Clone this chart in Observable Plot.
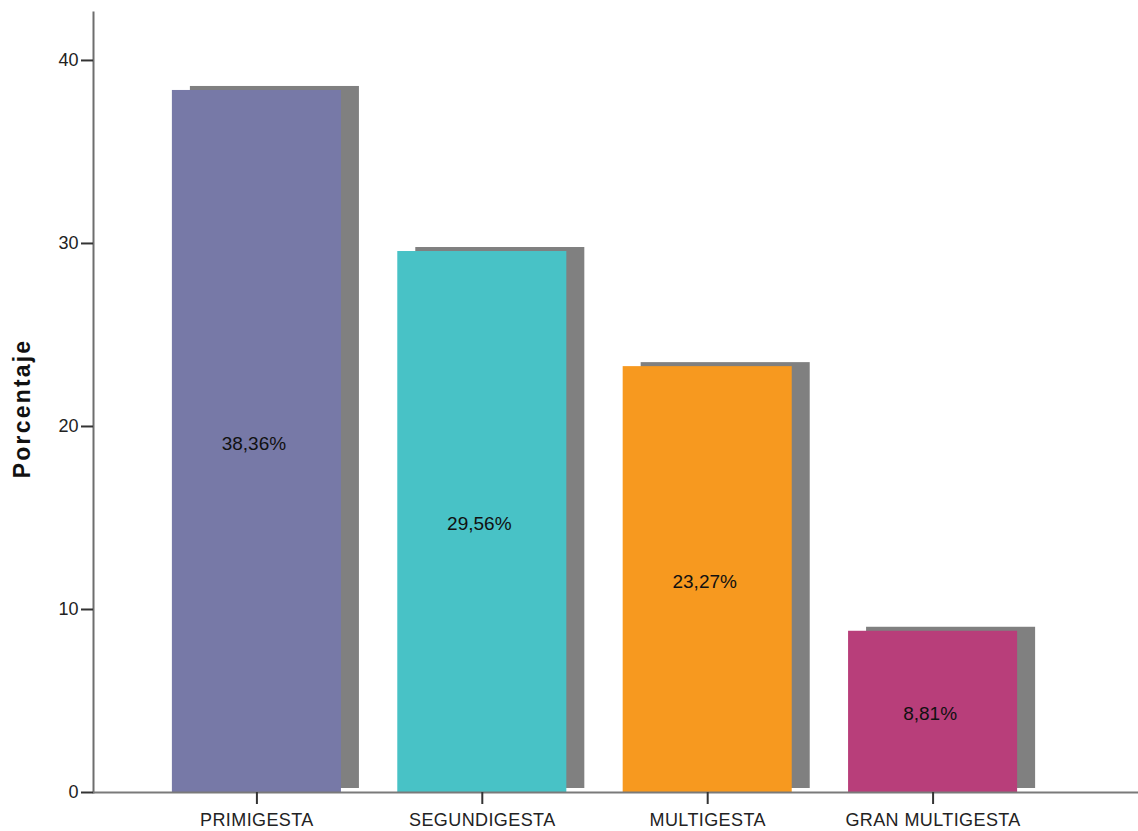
<!DOCTYPE html>
<html><head><meta charset="utf-8">
<script src="https://cdn.jsdelivr.net/npm/d3@7"></script>
<script src="https://cdn.jsdelivr.net/npm/@observablehq/plot@0.6"></script>
<style>body{margin:0;background:#fff} svg{display:block}</style>
</head><body><div id="chart"></div>
<script>
// Distribución de gestantes por número de gestaciones (porcentaje)
const categories = ["PRIMIGESTA", "SEGUNDIGESTA", "MULTIGESTA", "GRAN MULTIGESTA"];
const percentages = [38.36, 29.56, 23.27, 8.81];
const yTicks = [0, 10, 20, 30, 40];

const data = categories.map((category, i) => ({category, value: percentages[i]}));
const palette = ["#7779a7", "#48c2c6", "#f7991f", "#b83e7a"];
const fmt = v => v.toFixed(2).replace(".", ",") + "%";

const chart = Plot.plot({
  width: 1138,
  height: 831,
  marginLeft: 93,
  marginRight: 0,
  marginTop: 12,
  marginBottom: 39,
  style: {fontFamily: "'Liberation Sans', Arial, sans-serif", fontSize: "18px", color: "#222", background: "#fff"},
  x: {domain: categories, range: [93, 1096], round: false, paddingInner: 0.25, paddingOuter: 0.35, label: null},
  y: {domain: [0, 42.62], label: null},
  color: {domain: categories, range: palette},
  marks: [
    // drop shadow behind each bar
    Plot.barY(data, {x: "category", y: "value", fill: "#808080", dx: 18, dy: -4}),
    Plot.barY(data, {x: "category", y: "value", fill: "category"}),
    Plot.text(data, {x: "category", y: d => d.value / 2, text: d => fmt(d.value), dx: -3, dy: 2, fill: "#111", fontSize: 19}),
    Plot.frame({anchor: "left", stroke: "#6e6e6e", strokeWidth: 2}),
    Plot.ruleY([0], {stroke: "#7a7a7a", strokeWidth: 2}),
    Plot.axisY({ticks: yTicks, tickSize: 12, tickPadding: 3, tickFormat: d => d, stroke: "#333", strokeWidth: 2, label: null}),
    Plot.axisX({tickSize: 12, tickPadding: 9, stroke: "#333", strokeWidth: 2, label: null}),
    Plot.text(["Porcentaje"], {frameAnchor: "left", text: d => d, rotate: -90, textAnchor: "middle",
      dx: -71, dy: 6, fontWeight: "bold", fontSize: 23, fill: "#111"})
  ]
});

// wider tracking for the axis title and category labels
d3.select(chart).selectAll("text")
  .filter(function () { return this.textContent === "Porcentaje"; })
  .style("letter-spacing", "2.2px");
d3.select(chart).selectAll("[aria-label='x-axis tick label'] text")
  .style("letter-spacing", "0.4px");

document.getElementById("chart").append(chart);
</script>
</body></html>
